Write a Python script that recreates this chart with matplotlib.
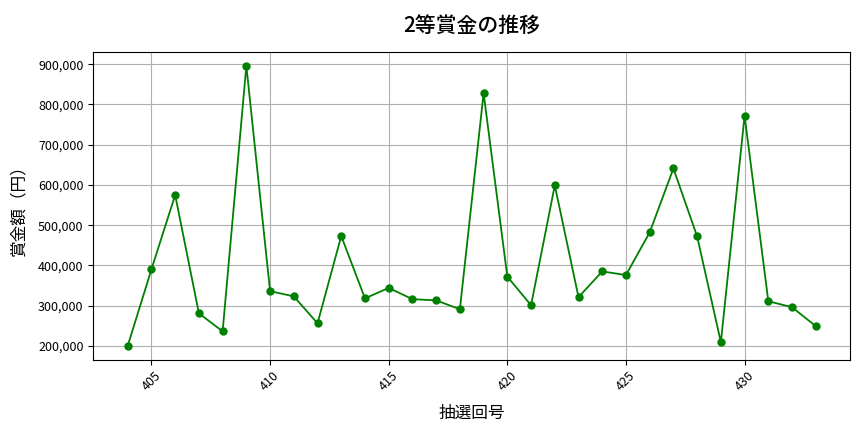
import numpy as np
import matplotlib; matplotlib.use("Agg")
import matplotlib.pyplot as plt
from matplotlib.ticker import FuncFormatter

plt.rcParams["font.family"] = ["Noto Sans CJK JP", "DejaVu Sans"]

draws = list(range(404, 434))
prize = [200000, 390000, 575000, 281000, 236000, 896000, 336000, 323000, 256000, 473000,
         318000, 344000, 316000, 313000, 291000, 828000, 372000, 301000, 599000, 321000,
         385000, 376000, 482000, 641000, 472000, 209000, 772000, 311000, 296000, 249000]

fig, ax = plt.subplots(figsize=(8.64, 4.32), dpi=100)
ax.plot(draws, prize, "o-", color="green", ms=5, lw=1.3)
ax.set_title("2等賞金の推移", fontsize=15, fontweight="medium", pad=14)
ax.set_xlabel("抽選回号", fontsize=12, labelpad=8)
ax.set_ylabel("賞金額（円）", fontsize=12, labelpad=8)
ax.yaxis.set_major_formatter(FuncFormatter(lambda v, p: f"{int(v):,}"))
ax.tick_params(axis="both", labelsize=9)
plt.setp(ax.get_xticklabels(), rotation=45)
ax.grid(True, color="#b0b0b0", lw=0.8)
fig.subplots_adjust(left=0.108, right=0.984, top=0.88, bottom=0.167)
fig.savefig("out.png", dpi=100)
